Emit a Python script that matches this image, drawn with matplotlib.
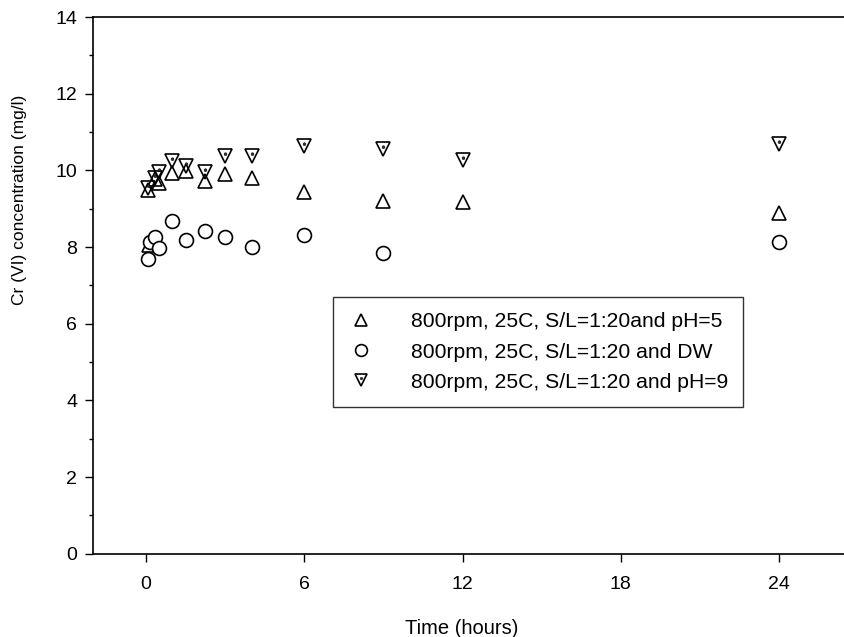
import matplotlib
matplotlib.use("Agg")
import matplotlib.pyplot as plt
import numpy as np
from matplotlib.path import Path
from matplotlib.ticker import MultipleLocator

plt.rcParams["font.family"] = ["Liberation Sans", "DejaVu Sans"]

# pH = 5 series
time_ph5 = [0.1, 0.083, 0.33, 0.5, 1, 1.5, 2.25, 3, 4, 6, 9, 12, 24]
conc_ph5 = [8.05, 9.49, 9.77, 9.68, 9.94, 9.99, 9.73, 9.9, 9.79, 9.44, 9.2, 9.17, 8.9]

# distilled water series
time_dw = [0.083, 0.167, 0.33, 0.5, 1, 1.5, 2.25, 3, 4, 6, 9, 24]
conc_dw = [7.7, 8.13, 8.25, 7.97, 8.68, 8.18, 8.42, 8.25, 8.0, 8.31, 7.84, 8.13]

# pH = 9 series
time_ph9 = [0.083, 0.33, 0.5, 1, 1.5, 2.25, 3, 4, 6, 9, 12, 24]
conc_ph9 = [9.53, 9.79, 9.96, 10.25, 10.11, 9.96, 10.37, 10.37, 10.63, 10.57, 10.26, 10.68]

labels = ["800rpm, 25C, S/L=1:20and pH=5",
          "800rpm, 25C, S/L=1:20 and DW",
          "800rpm, 25C, S/L=1:20 and pH=9"]

# small dot sitting at the centroid of the down triangle
circ = Path.circle(center=(0, 0.167), radius=0.1)
dot_marker = Path(np.vstack([[[0.5, 0.5]], circ.vertices]),
                  np.concatenate([[Path.MOVETO], circ.codes]))

fig = plt.figure(figsize=(8.45, 6.37), dpi=100)
ax = fig.add_axes([0.1095, 0.1307, 0.8905, 0.8425])

ms = 10
h1, = ax.plot(time_ph5, conc_ph5, ls="none", marker="^", ms=ms,
              mfc="none", mec="black", mew=1.2)
h2, = ax.plot(time_dw, conc_dw, ls="none", marker="o", ms=ms,
              mfc="white", mec="black", mew=1.2)
h3, = ax.plot(time_ph9, conc_ph9, ls="none", marker="v", ms=ms,
              mfc="none", mec="black", mew=1.2)
h3d, = ax.plot(time_ph9, conc_ph9, ls="none", marker=dot_marker, ms=ms,
               mfc="#333333", mec="black", mew=0.4)

ax.set_xlim(-2.03, 26.5)
ax.set_ylim(0, 14)
ax.xaxis.set_major_locator(MultipleLocator(6))
ax.yaxis.set_major_locator(MultipleLocator(2))
ax.yaxis.set_minor_locator(MultipleLocator(1))
ax.tick_params(axis="both", which="major", direction="out", length=6,
               width=1, labelsize=14)
ax.tick_params(axis="x", which="major", pad=10)
ax.tick_params(axis="y", which="major", pad=5)
ax.tick_params(axis="y", which="minor", direction="out", length=3, width=1)
ax.spines["right"].set_visible(False)
for s in ["left", "bottom", "top"]:
    ax.spines[s].set_linewidth(1.2)

ax.set_xlabel("Time (hours)", fontsize=14.5)
ax.set_ylabel("Cr (VI) concentration (mg/l)", fontsize=12.5)
ax.xaxis.set_label_coords(0.491, -0.122)
ax.yaxis.set_label_coords(-0.087, 0.66)

leg = ax.legend([h1, h2, (h3, h3d)], labels, loc="upper left",
                bbox_to_anchor=(0.32, 0.478), fontsize=15.2, frameon=True,
                fancybox=False, edgecolor="black", markerscale=0.85,
                handlelength=1.2, handletextpad=1.75, borderpad=0.72,
                labelspacing=0.53, borderaxespad=0)
leg.get_frame().set_linewidth(1.0)

fig.savefig("out.png", dpi=100, facecolor="white")
